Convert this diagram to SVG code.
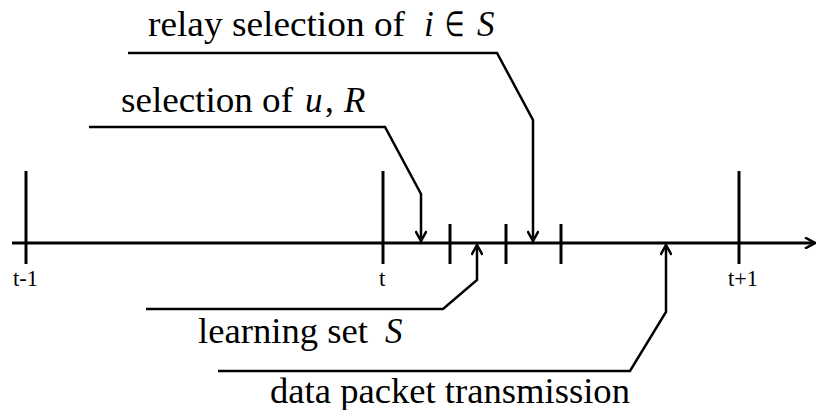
<svg xmlns="http://www.w3.org/2000/svg" width="817" height="410" viewBox="0 0 817 410">
<style>
.ax{stroke:#000;stroke-width:3;fill:none}
.tk{stroke:#000;stroke-width:3;fill:none}
.cn{stroke:#000;stroke-width:2.5;fill:none;stroke-linejoin:miter}
.lb{font-family:"Liberation Serif","Times New Roman",serif;font-size:35px;fill:#000}
.sm{font-family:"Liberation Serif","Times New Roman",serif;font-size:23px;fill:#000}
.it{font-style:italic}
</style>
<defs>
<marker id="ah" viewBox="0 0 12 12" refX="11" refY="6" markerWidth="12" markerHeight="12" markerUnits="userSpaceOnUse" orient="auto">
<path d="M1,0.5 L11,6 L1,11.5" fill="none" stroke="#000" stroke-width="2.5"/>
</marker>
</defs>
<g id="timeline">
<line class="ax" x1="12" y1="243" x2="815" y2="243" marker-end="url(#ah)"/>
<line class="tk" x1="26" y1="171" x2="26" y2="264"/>
<line class="tk" x1="383" y1="171" x2="383" y2="264"/>
<line class="tk" x1="739" y1="171" x2="739" y2="264"/>
<line class="tk" x1="450" y1="224" x2="450" y2="264"/>
<line class="tk" x1="506" y1="224" x2="506" y2="264"/>
<line class="tk" x1="561" y1="224" x2="561" y2="264"/>
<text class="sm" x="13" y="286" textLength="25" lengthAdjust="spacingAndGlyphs">t-1</text>
<text class="sm" x="379" y="286">t</text>
<text class="sm" x="728" y="286" textLength="30" lengthAdjust="spacingAndGlyphs">t+1</text>
</g>
<g id="connectors">
<polyline class="cn" points="128,53 497,53 533,120 533,241" marker-end="url(#ah)"/>
<polyline class="cn" points="89,127 385,127 421,194 421,241" marker-end="url(#ah)"/>
<polyline class="cn" points="146,309 443,309 477,280 477,245" marker-end="url(#ah)"/>
<polyline class="cn" points="218,371 630,371 666,312 666,245" marker-end="url(#ah)"/>
</g>
<g id="relay-selection">
<text class="lb" x="148" y="36" textLength="257" lengthAdjust="spacingAndGlyphs">relay selection of</text>
<text class="lb it" x="424" y="36">i</text>
<text class="lb" x="445" y="36" font-size="28" textLength="19" lengthAdjust="spacingAndGlyphs">∈</text>
<text class="lb it" x="477" y="36">S</text>
</g>
<g id="selection-u-R">
<text class="lb" x="121" y="112" textLength="172" lengthAdjust="spacingAndGlyphs">selection of</text>
<text class="lb it" x="305" y="112">u</text>
<text class="lb" x="325" y="112">,</text>
<text class="lb it" x="344" y="112">R</text>
</g>
<g id="learning-set">
<text class="lb" x="198" y="343" textLength="170" lengthAdjust="spacingAndGlyphs">learning set</text>
<text class="lb it" x="385" y="343">S</text>
</g>
<g id="data-packet">
<text class="lb" x="270" y="403" textLength="360" lengthAdjust="spacingAndGlyphs">data packet transmission</text>
</g>
</svg>
